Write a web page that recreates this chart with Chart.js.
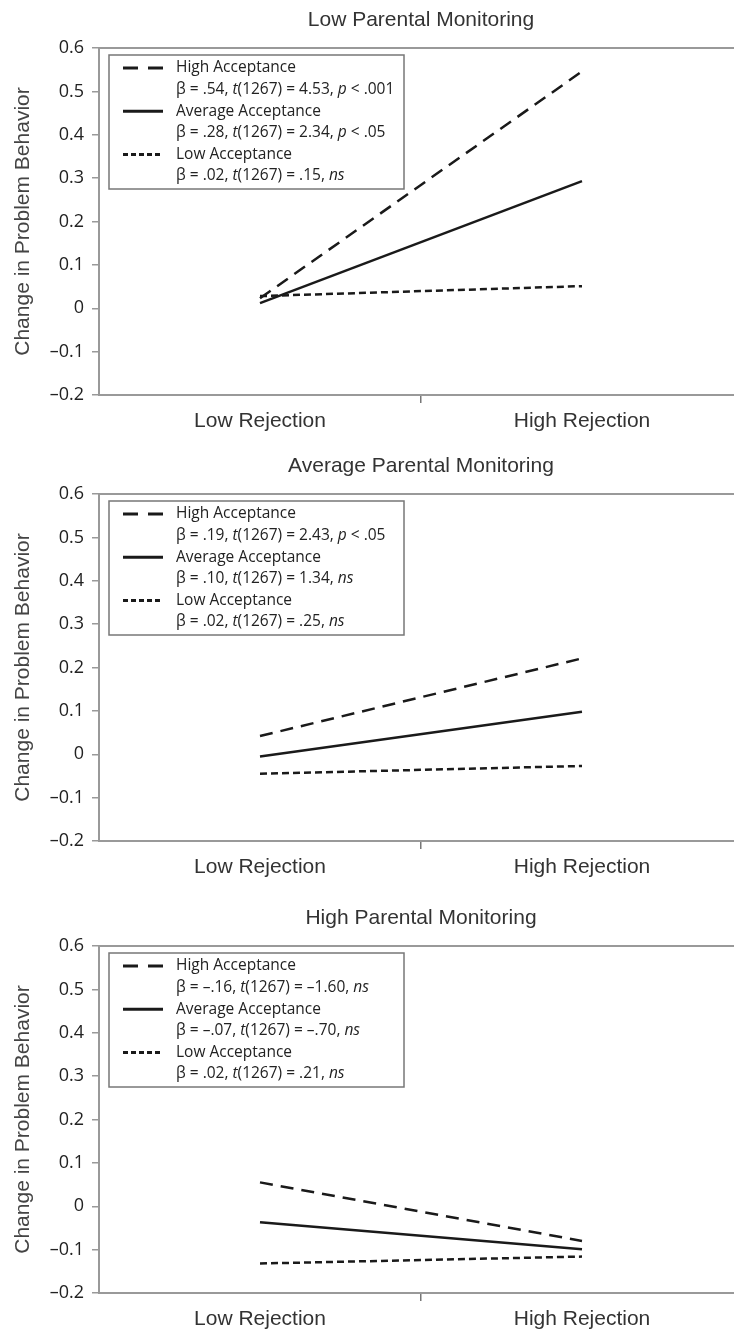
<!DOCTYPE html>
<html>
<head>
<meta charset="utf-8">
<script src="https://cdn.jsdelivr.net/npm/chart.js@4.4.1/dist/chart.umd.min.js"></script>
<style>
html, body { margin: 0; padding: 0; background: #fff; overflow: hidden; width: 734px; height: 1340px; }
canvas { position: absolute; left: 0; }
</style>
</head>
<body>
<canvas id="c1" width="743" height="446" style="top:0px"></canvas>
<canvas id="c2" width="743" height="446" style="top:446px"></canvas>
<canvas id="c3" width="743" height="446" style="top:898px"></canvas>
<script>
const categories = ['Low Rejection', 'High Rejection']
const panelTitles = ['Low Parental Monitoring', 'Average Parental Monitoring', 'High Parental Monitoring']
const seriesNames = ['High Acceptance', 'Average Acceptance', 'Low Acceptance']
const yTickLabels = ['\u20130.2', '\u20130.1', '0', '0.1', '0.2', '0.3', '0.4', '0.5', '0.6']

// low parental monitoring
const lowMonHigh = [0.023, 0.546]
const lowMonAvg = [0.012, 0.293]
const lowMonLow = [0.028, 0.051]
// average parental monitoring
const avgMonHigh = [0.042, 0.221]
const avgMonAvg = [-0.005, 0.098]
const avgMonLow = [-0.045, -0.027]
// high parental monitoring
const highMonHigh = [0.055, -0.080]
const highMonAvg = [-0.037, -0.099]
const highMonLow = [-0.132, -0.116]

// legend statistics, [text, italic]
const lowMonStats = [
  [['\u03b2 = .54, ', 0], ['t', 1], ['(1267) = 4.53, ', 0], ['p', 1], [' < .001', 0]],
  [['\u03b2 = .28, ', 0], ['t', 1], ['(1267) = 2.34, ', 0], ['p', 1], [' < .05', 0]],
  [['\u03b2 = .02, ', 0], ['t', 1], ['(1267) = .15, ', 0], ['ns', 1]]
]
const avgMonStats = [
  [['\u03b2 = .19, ', 0], ['t', 1], ['(1267) = 2.43, ', 0], ['p', 1], [' < .05', 0]],
  [['\u03b2 = .10, ', 0], ['t', 1], ['(1267) = 1.34, ', 0], ['ns', 1]],
  [['\u03b2 = .02, ', 0], ['t', 1], ['(1267) = .25, ', 0], ['ns', 1]]
]
const highMonStats = [
  [['\u03b2 = \u2013.16, ', 0], ['t', 1], ['(1267) = \u20131.60, ', 0], ['ns', 1]],
  [['\u03b2 = \u2013.07, ', 0], ['t', 1], ['(1267) = \u2013.70, ', 0], ['ns', 1]],
  [['\u03b2 = .02, ', 0], ['t', 1], ['(1267) = .21, ', 0], ['ns', 1]]
]

const dashes = [[13, 8], [], [7, 4]]
const legendDashes = [[15, 10], [], [5, 3]]
const axisFont = '"Liberation Sans", Arial, sans-serif'
const legendFont = '"Open Sans", "Noto Sans", sans-serif'

const legendBox = {
  id: 'legendBox',
  afterDraw(chart, args, opts) {
    const ctx = chart.ctx
    const a = chart.chartArea
    const x = a.left + 10, y = a.top + 7
    ctx.save()
    ctx.strokeStyle = '#777'
    ctx.lineWidth = 1.5
    ctx.strokeRect(x, y, 295, 134)
    chart.data.datasets.forEach((ds, i) => {
      const rowY = y + 13 + i * 43.2
      ctx.setLineDash(legendDashes[i])
      ctx.lineWidth = 3
      ctx.strokeStyle = ds.borderColor
      ctx.beginPath()
      ctx.moveTo(x + 14, rowY)
      ctx.lineTo(x + 54, rowY)
      ctx.stroke()
      ctx.setLineDash([])
      ctx.fillStyle = '#222'
      ctx.textBaseline = 'middle'
      ctx.font = '15.5px ' + legendFont
      ctx.fillText(ds.label, x + 67, rowY)
      let tx = x + 67
      opts.stats[i].forEach(([s, it]) => {
        ctx.font = (it ? 'italic ' : '') + '15.5px ' + legendFont
        ctx.fillText(s, tx, rowY + 21.6)
        tx += ctx.measureText(s).width
      })
    })
    ctx.restore()
  }
}

const frame = {
  id: 'frame',
  afterDraw(chart, args, opts) {
    const ctx = chart.ctx
    const a = chart.chartArea
    ctx.save()
    ctx.strokeStyle = '#999'
    ctx.lineWidth = 2
    ctx.beginPath()
    ctx.moveTo(a.left, a.top)
    ctx.lineTo(chart.width, a.top)
    ctx.stroke()
    ctx.fillStyle = '#333'
    ctx.font = '21px ' + axisFont
    ctx.textAlign = 'center'
    ctx.textBaseline = 'middle'
    ctx.fillText(opts.text, (a.left + a.right) / 2, 20)
    ctx.restore()
  }
}

function makePanel(id, title, high, avg, low, stats) {
  const values = [high, avg, low]
  return new Chart(document.getElementById(id), {
    type: 'line',
    data: {
      labels: categories,
      datasets: values.map((v, i) => ({
        label: seriesNames[i],
        data: v,
        borderColor: '#1a1a1a',
        borderWidth: 2.5,
        borderDash: dashes[i],
        pointRadius: 0,
        tension: 0
      }))
    },
    options: {
      responsive: false,
      animation: false,
      layout: { padding: { top: 48 } },
      plugins: {
        legend: { display: false },
        tooltip: { enabled: false },
        legendBox: { stats: stats },
        frame: { text: title }
      },
      scales: {
        x: {
          offset: true,
          grid: {
            offset: true,
            drawOnChartArea: false,
            tickLength: 8,
            lineWidth: 1.5,
            color: c => c.index === 1 ? '#777' : 'rgba(0,0,0,0)'
          },
          border: { color: '#999', width: 2 },
          ticks: { padding: 6, color: '#333', font: { family: axisFont, size: 21 } },
          afterFit: s => { s.height = 51 }
        },
        y: {
          min: -0.2,
          max: 0.6,
          ticks: {
            stepSize: 0.1,
            padding: 8,
            color: '#222',
            font: { family: legendFont, size: 18 },
            callback: (v, i) => yTickLabels[i]
          },
          grid: { drawOnChartArea: false, tickLength: 7, lineWidth: 1.5, color: '#999' },
          border: { color: '#999', width: 2 },
          title: {
            display: true,
            text: 'Change in Problem Behavior',
            color: '#444',
            font: { family: axisFont, size: 21 },
            padding: { top: 11, bottom: 0 }
          },
          afterFit: s => { s.width = 99 }
        }
      }
    },
    plugins: [legendBox, frame]
  })
}

makePanel('c1', panelTitles[0], lowMonHigh, lowMonAvg, lowMonLow, lowMonStats)
makePanel('c2', panelTitles[1], avgMonHigh, avgMonAvg, avgMonLow, avgMonStats)
makePanel('c3', panelTitles[2], highMonHigh, highMonAvg, highMonLow, highMonStats)
</script>
</body>
</html>
